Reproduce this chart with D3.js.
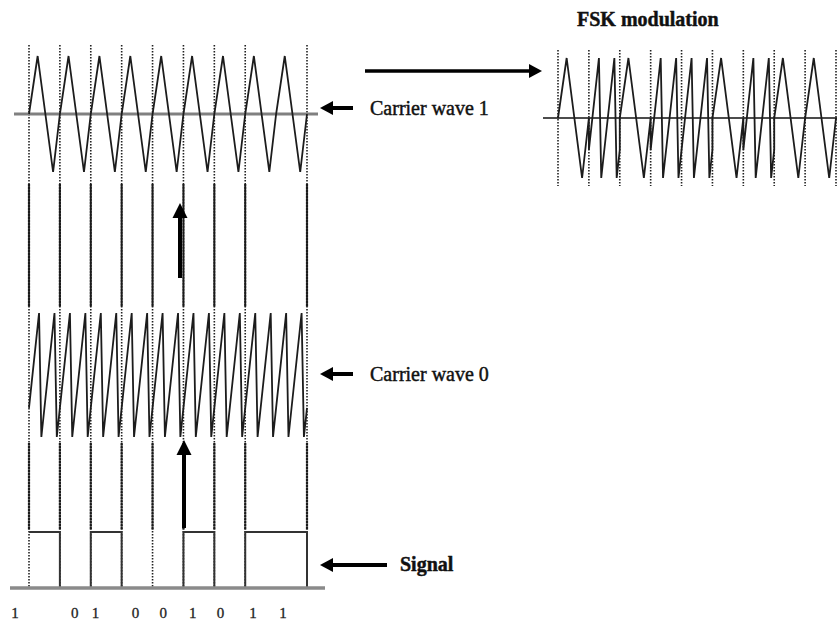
<html>
<head>
<script src="https://cdn.jsdelivr.net/npm/d3@7"></script>
<style>
  body { margin: 0; background: #fff; }
  .wave { fill: none; stroke: #1c1c1c; stroke-width: 1.8; stroke-linejoin: miter; }
  .mark { stroke: #222; stroke-width: 1.6; stroke-dasharray: 1.6,1.4; }
  .dense { stroke: #1a1a1a; stroke-width: 2.2; stroke-dasharray: 2.4,0.6; }
  .label { font-family: "Liberation Serif", serif; font-size: 20px; fill: #111; stroke: #111; stroke-width: 0.45; }
  .bit { font-family: "Liberation Serif", serif; font-size: 15px; fill: #222; stroke: #222; stroke-width: 0.3; }
</style>
</head>
<body>
<script>
// signal bits and their printed labels
const bits = [1, 0, 1, 0, 0, 1, 0, 1, 1]
const bitLabels = ["1", "0", "1", "0", "0", "1", "0", "1", "1"]
const labelAt = [-0.45, 1.48, 2.15, 3.45, 4.35, 5.3, 6.2, 7.25, 8.22]   // in bit units
// one bit period of each carrier: [fraction of bit, level]
const carrier1Shape = [[0, 0], [0.28, 1], [0.78, -1], [1, 0]]
const carrier0Shape = [[0, -0.53], [0.325, 1], [0.4, -1], [0.825, 1], [0.9, -1], [1, -0.53]]
// bit boundaries that carry a dotted guide
const leftMarks = [0, 1, 2, 3, 4, 5, 6, 7, 9]
const fskMarks = [0, 1, 2, 3, 4, 5, 6, 7, 8, 9]

let w = 837, h = 621
let svg = d3.select("body").append("svg").attr("width", w).attr("height", h)
svg.append("rect").attr("width", w).attr("height", h).attr("fill", "#fff")

let xL = d3.scaleLinear().domain([0, 9]).range([29, 307])
let xF = d3.scaleLinear().domain([0, 9]).range([558, 836])
let y1 = d3.scaleLinear().domain([-1, 1]).range([172, 56])
let y0 = d3.scaleLinear().domain([-1, 1]).range([437, 313])
let yF = d3.scaleLinear().domain([-1, 1]).range([178, 58])
let yS = d3.scaleLinear().domain([0, 1]).range([588, 532])

function build(shapeFor) {
  let pts = []
  bits.forEach((b, i) => {
    shapeFor(b).forEach((p, j) => {
      pts.push({ x: i + p[0], v: p[1] })
    })
  })
  return pts
}

// dotted guides, left diagram
for (let m of leftMarks) {
  svg.append("line").attr("class", "mark")
    .attr("x1", xL(m)).attr("x2", xL(m)).attr("y1", 45).attr("y2", 588)
  for (let seg of [[184, 307], [443, 530]]) {
    svg.append("line").attr("class", "dense")
      .attr("x1", xL(m)).attr("x2", xL(m)).attr("y1", seg[0]).attr("y2", seg[1])
  }
}

// carrier wave 1
svg.append("line").attr("x1", 14).attr("x2", 318).attr("y1", y1(0)).attr("y2", y1(0))
  .attr("stroke", "#808080").attr("stroke-width", 3)
svg.append("path").datum(build(() => carrier1Shape)).attr("class", "wave")
  .attr("d", d3.line().x(d => xL(d.x)).y(d => y1(d.v)))

// carrier wave 0
svg.append("path").datum(build(() => carrier0Shape)).attr("class", "wave")
  .attr("d", d3.line().x(d => xL(d.x)).y(d => y0(d.v)))

// signal (pulses drawn, then the grey baseline on top)
let sig = bits.map((b, i) => ({ x: i, v: b })).concat([{ x: 9, v: 0 }])
svg.append("path").datum(sig).attr("fill", "none").attr("stroke", "#333").attr("stroke-width", 2)
  .attr("d", d3.line().curve(d3.curveStepAfter).x(d => xL(d.x)).y(d => yS(d.v)))
svg.append("line").attr("x1", 10).attr("x2", 325).attr("y1", yS(0)).attr("y2", yS(0))
  .attr("stroke", "#8a8a8a").attr("stroke-width", 3.5)

svg.selectAll(".bit").data(bitLabels).join("text").attr("class", "bit")
  .attr("x", (d, i) => xL(labelAt[i])).attr("y", 618).attr("text-anchor", "middle")
  .text(d => d)

// FSK modulation
for (let m of fskMarks) {
  svg.append("line").attr("class", "mark")
    .attr("x1", xF(m)).attr("x2", xF(m)).attr("y1", 50).attr("y2", 186)
}
svg.append("line").attr("x1", 543).attr("x2", 837).attr("y1", yF(0)).attr("y2", yF(0))
  .attr("stroke", "#111").attr("stroke-width", 1.5)
svg.append("path").datum(build(b => b === 1 ? carrier1Shape : carrier0Shape)).attr("class", "wave")
  .attr("d", d3.line().x(d => xF(d.x)).y(d => yF(d.v)))

svg.append("text").attr("class", "label").attr("x", 577).attr("y", 26)
  .attr("font-weight", "bold").attr("stroke-width", 0.2).text("FSK modulation")

// arrows
function arrow(x1, y1_, x2, y2, sw, head, hw) {
  let a = Math.atan2(y2 - y1_, x2 - x1)
  let bx = x2 - head * Math.cos(a), by = y2 - head * Math.sin(a)
  svg.append("line").attr("x1", x1).attr("y1", y1_).attr("x2", bx).attr("y2", by)
    .attr("stroke", "#000").attr("stroke-width", sw)
  let px = -Math.sin(a) * hw / 2, py = Math.cos(a) * hw / 2
  svg.append("path").attr("fill", "#000")
    .attr("d", `M${x2},${y2}L${bx + px},${by + py}L${bx - px},${by - py}Z`)
}
arrow(365, 71, 542, 71, 3.5, 13, 14)
arrow(353, 108, 320, 108, 4, 13, 14)
arrow(353, 374, 320, 374, 4, 13, 14)
arrow(387, 565, 320, 565, 4, 13, 14)
arrow(180, 278, 180, 203, 4, 15, 15)
arrow(184, 528, 184, 440, 4, 15, 15)

svg.append("text").attr("class", "label").attr("x", 370).attr("y", 115).text("Carrier wave 1")
svg.append("text").attr("class", "label").attr("x", 370).attr("y", 381).text("Carrier wave 0")
svg.append("text").attr("class", "label").attr("x", 400).attr("y", 571)
  .attr("font-weight", "bold").attr("stroke-width", 0.2).text("Signal")
</script>
</body>
</html>
